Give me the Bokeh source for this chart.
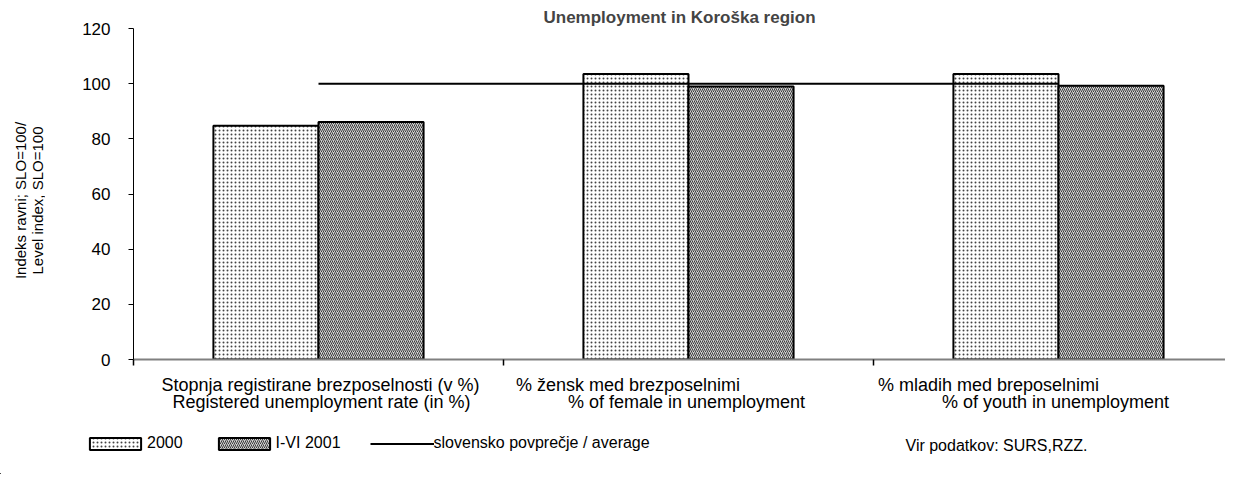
import math
from bokeh.plotting import figure
from bokeh.layouts import column, row
from bokeh.models import (Range1d, FixedTicker, Label, Legend, LegendItem,
                          ColumnDataSource, LinearAxis)
from bokeh.embed import file_html
from bokeh.resources import INLINE

# ---- data ----
title_text = "Unemployment in Koroška region"
categories_sl = ["Stopnja registirane brezposelnosti (v %)",
                 "% žensk med  brezposelnimi",
                 "% mladih med breposelnimi"]
categories_en = ["Registered unemployment rate (in %)",
                 "% of female in unemployment",
                 "% of youth in unemployment"]
values_2000 = [84.7, 103.5, 103.5]
values_2001 = [86.1, 99.0, 99.2]
average = [100, 100, 100]
y_ticks = [0, 20, 40, 60, 80, 100, 120]
series_names = ["2000", "I-VI 2001", "slovensko povprečje / average"]
y_title = ["Indeks ravni; SLO=100/", "Level index, SLO=100"]
source_note = "Vir podatkov: SURS,RZZ."

# ---- layout / style ----
FONT = "Liberation Sans"
W = 1225
TW = 45             # width of the strip holding the y-axis title
PX_PER_CAT = 370.0
LEFT = 133
H1 = 420
H2 = 54
bar_w = 0.284
n = len(categories_sl)
centers = [i + 0.5 for i in range(n)]
bounds = [float(i) for i in range(n + 1)]
shift_l1 = [2, -58, -70]
shift_l2 = [3, -2, -3]

style_2000 = dict(fill_color="white", line_color="black", line_width=2,
                  hatch_pattern="dot", hatch_color="#444444", hatch_scale=4,
                  hatch_weight=1)
style_2001 = dict(fill_color="#d0d0d0", line_color="black", line_width=2,
                  hatch_pattern="right_diagonal_line", hatch_color="#3c3c3c",
                  hatch_scale=4, hatch_weight=1)
style_avg = dict(line_color="black", line_width=2)


def bare(fig):
    fig.frame_align = False
    fig.outline_line_color = None
    fig.xgrid.visible = False
    fig.ygrid.visible = False
    return fig


src = ColumnDataSource(dict(
    x0=[c - bar_w / 2 for c in centers],
    x1=[c + bar_w / 2 for c in centers],
    v2000=values_2000, v2001=values_2001,
    xc=centers, avg=average))

# ---- y title strip ----
t = bare(figure(width=TW, height=H1, output_backend="svg", toolbar_location=None,
                x_range=Range1d(0, TW), y_range=Range1d(0, H1), min_border=0,
                x_axis_location=None, y_axis_location=None))
for j, txt in enumerate(y_title):
    t.add_layout(Label(x=20 + 17 * j, y=H1 - 200, text=txt, angle=math.pi / 2,
                       text_align="center", text_baseline="middle",
                       text_font=FONT, text_font_size="15px",
                       text_color="black"))

# ---- main chart ----
p = bare(figure(width=W - TW, height=H1, output_backend="svg",
                toolbar_location=None,
                x_range=Range1d(0, (W - LEFT) / PX_PER_CAT),
                y_range=Range1d(0, 120),
                min_border_left=LEFT - TW, min_border_right=0,
                min_border_top=28, min_border_bottom=H1 - 359))

p.title.text = title_text
p.title.align = "center"
p.title.text_font = FONT
p.title.text_font_size = "17px"
p.title.text_font_style = "bold"
p.title.standoff = 4

r2000 = p.vbar(x="x0", top="v2000", width=bar_w, bottom=0, source=src, **style_2000)
r2001 = p.vbar(x="x1", top="v2001", width=bar_w, bottom=0, source=src, **style_2001)
rline = p.line(x="xc", y="avg", source=src, **style_avg)

ya = p.yaxis[0]
ya.ticker = FixedTicker(ticks=y_ticks)
ya.minor_tick_line_color = None
ya.major_tick_out = 5
ya.major_tick_in = 0
ya.axis_line_color = "black"
ya.major_tick_line_color = "black"
ya.major_label_text_font = FONT
ya.major_label_text_font_size = "17px"
ya.major_label_text_color = "black"
ya.major_label_standoff = 18

pos1 = [round(centers[i] + shift_l1[i] / PX_PER_CAT, 4) for i in range(n)]
pos2 = [round(centers[i] + shift_l2[i] / PX_PER_CAT, 4) for i in range(n)]

xa = p.xaxis[0]
xa.ticker = FixedTicker(ticks=pos1, minor_ticks=bounds)
xa.major_label_overrides = {pos1[i]: categories_sl[i] for i in range(n)}
xa.major_tick_line_color = None
xa.major_tick_out = 0
xa.major_tick_in = 0
xa.minor_tick_out = 6
xa.minor_tick_in = 0
xa.minor_tick_line_color = "black"
xa.minor_tick_line_width = 1.5
xa.axis_line_color = "#808080"
xa.axis_line_width = 2
xa.major_label_text_font = FONT
xa.major_label_text_font_size = "18px"
xa.major_label_text_color = "black"
xa.major_label_standoff = 9

xb = LinearAxis(ticker=FixedTicker(ticks=pos2),
                major_label_overrides={pos2[i]: categories_en[i] for i in range(n)},
                axis_line_color=None, major_tick_line_color=None,
                minor_tick_line_color=None, major_tick_out=0, major_tick_in=0,
                major_label_standoff=-6, major_label_text_font=FONT,
                major_label_text_font_size="18px", major_label_text_color="black")
p.add_layout(xb, "below")

# ---- bottom strip: legend + source note ----
X0, Y0 = 1000, 1000  # strip window lies far away from the data
q = bare(figure(width=W, height=H2, output_backend="svg", toolbar_location=None,
                x_range=Range1d(X0, X0 + W), y_range=Range1d(Y0, Y0 + H2),
                min_border=0, x_axis_location=None, y_axis_location=None))
l2000 = q.vbar(x="x0", top="v2000", width=bar_w, bottom=0, source=src, **style_2000)
l2001 = q.vbar(x="x1", top="v2001", width=bar_w, bottom=0, source=src, **style_2001)
lavg = q.line(x="xc", y="avg", source=src, **style_avg)

legend = Legend(items=[LegendItem(label=series_names[0], renderers=[l2000], index=0),
                       LegendItem(label=series_names[1], renderers=[l2001], index=0),
                       LegendItem(label=series_names[2], renderers=[lavg], index=0)],
                orientation="horizontal", location=(83, 22),
                glyph_width=64, glyph_height=15, label_standoff=0, spacing=29,
                padding=0, margin=0, border_line_color=None,
                background_fill_alpha=0, label_text_font=FONT,
                label_text_font_size="16px", label_text_color="black")
q.add_layout(legend, "center")
q.add_layout(Label(x=X0 + 905, y=Y0 + 29, text=source_note, text_align="left",
                   text_baseline="middle", text_font=FONT,
                   text_font_size="16px", text_color="black"))

layout = column(row(t, p, spacing=0), q, spacing=0)
open("out.html", "w").write(file_html(layout, INLINE))
